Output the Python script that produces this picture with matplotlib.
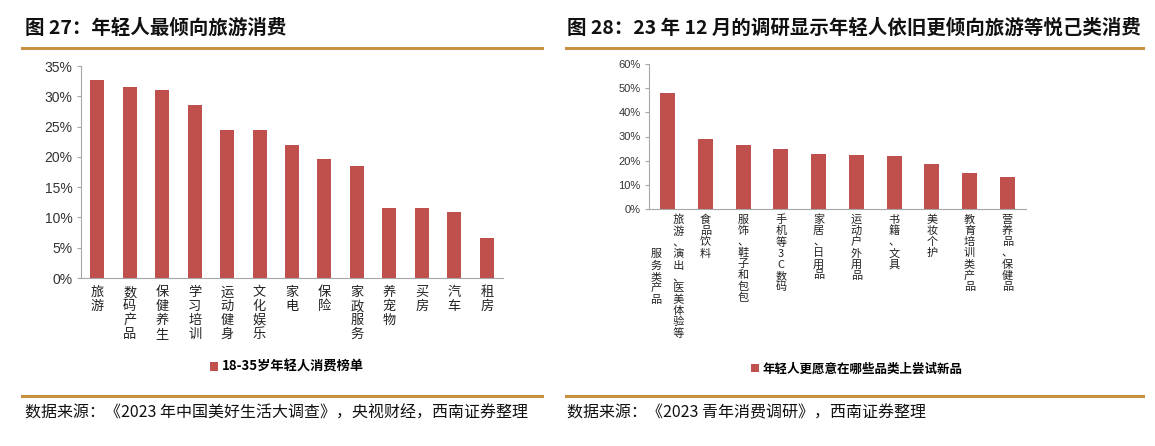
import numpy as np
import matplotlib as mpl
mpl.use('Agg')
import matplotlib.pyplot as plt
from matplotlib.ticker import PercentFormatter
from matplotlib.lines import Line2D

plt.rcParams['font.family'] = ['Noto Sans CJK SC', 'DejaVu Sans']

# ---- data ----
left_title = '图 27：年轻人最倾向旅游消费'
left_cats = ['旅游', '数码产品', '保健养生', '学习培训', '运动健身', '文化娱乐', '家电',
             '保险', '家政服务', '养宠物', '买房', '汽车', '租房']
left_vals = [32.7, 31.6, 31.0, 28.6, 24.5, 24.4, 22.0, 19.6, 18.5, 11.5, 11.5, 10.9, 6.6]
left_series = '18-35岁年轻人消费榜单'
left_source = '数据来源：《2023 年中国美好生活大调查》，央视财经，西南证券整理'

right_title = '图 28：23 年 12 月的调研显示年轻人依旧更倾向旅游等悦己类消费'
right_cats = ['旅游、演出、医美体验等服务类产品', '食品饮料', '服饰、鞋子和包包', '手机等3C数码',
              '家居、日用品', '运动户外用品', '书籍、文具', '美妆个护', '教育培训类产品',
              '营养品、保健品']
right_vals = [48.0, 28.8, 26.5, 24.7, 22.9, 22.3, 21.8, 18.5, 14.8, 13.2]
right_series = '年轻人更愿意在哪些品类上尝试新品'
right_source = '数据来源：《2023 青年消费调研》，西南证券整理'

BAR = '#C0504D'
GOLD = '#C8913F'
AXC = '#A6A6A6'


def vstack(s, maxlen=11):
    # vertical text, columns right-to-left, short columns centred
    cols = [s[i:i + maxlen] for i in range(0, len(s), maxlen)]
    if len(cols) == 1:
        return '\n'.join(s)
    n = len(cols[0])
    rows = []
    for r in range(n):
        line = []
        for c in reversed(cols):
            off = (n - len(c)) // 2
            k = r - off
            line.append(c[k] if 0 <= k < len(c) else '\u3000')
        rows.append('\u3000'.join(line))
    return '\n'.join(rows)


def setup(ax, ymax, step, fs):
    for sp in ['top', 'right']:
        ax.spines[sp].set_visible(False)
    for sp in ['left', 'bottom']:
        ax.spines[sp].set_color(AXC)
        ax.spines[sp].set_linewidth(0.8)
    ax.set_ylim(0, ymax)
    ax.set_yticks(np.arange(0, ymax + 0.1, step))
    ax.yaxis.set_major_formatter(PercentFormatter(xmax=100, decimals=0))
    ax.tick_params(axis='y', length=3, color=AXC, labelsize=fs, pad=3)
    ax.tick_params(axis='y', labelcolor='#333333')
    for t in ax.get_yticklabels():
        t.set_fontfamily('Liberation Sans')
    ax.tick_params(axis='x', length=0)


fig = plt.figure(figsize=(11.55, 4.46), dpi=100)

# left chart
ax1 = fig.add_axes([81 / 1155, 168 / 446, 422 / 1155, 212 / 446])
x1 = np.arange(len(left_cats))
ax1.bar(x1, left_vals, width=0.43, color=BAR, label=left_series)
ax1.set_xlim(-0.5, len(left_cats) - 0.5)
setup(ax1, 35, 5, 10)
ax1.set_xticks(x1)
ax1.set_xticklabels([vstack(c) for c in left_cats], fontsize=9.5, va='top',
                    linespacing=1.08, color='#222222')
ax1.tick_params(axis='x', pad=6)

# right chart
ax2 = fig.add_axes([649 / 1155, 237 / 446, 377 / 1155, 145 / 446])
x2 = np.arange(len(right_cats))
ax2.bar(x2, right_vals, width=0.4, color=BAR, label=right_series)
ax2.set_xlim(-0.5, len(right_cats) - 0.5)
setup(ax2, 60, 10, 8)
ax2.set_xticks(x2)
ax2.set_xticklabels([vstack(c) for c in right_cats], fontsize=8, va='top',
                    linespacing=1.13, color='#222222')
ax2.tick_params(axis='x', pad=4)

# legends
ax1.legend(loc='center', bbox_to_anchor=(287 / 1155, 1 - 367 / 446),
           bbox_transform=fig.transFigure, frameon=False, handlelength=0.6,
           handleheight=0.6, handletextpad=0.3,
           prop={'family': ['Noto Sans CJK SC'], 'weight': 'bold', 'size': 9.5})
ax2.legend(loc='center', bbox_to_anchor=(857 / 1155, 1 - 369 / 446),
           bbox_transform=fig.transFigure, frameon=False, handlelength=0.6,
           handleheight=0.6, handletextpad=0.3,
           prop={'family': ['Noto Sans CJK SC'], 'weight': 'bold', 'size': 9})

# titles and rules
fig.text(25 / 1155, 1 - 28 / 446, left_title, fontsize=14, fontweight='bold',
         va='center', ha='left', color='#111111')
fig.text(567 / 1155, 1 - 28 / 446, right_title, fontsize=14, fontweight='bold',
         va='center', ha='left', color='#111111')
for x0, x1r in [(22, 542), (566, 1143)]:
    for yy in [47.5, 396]:
        fig.add_artist(Line2D([x0 / 1155, x1r / 1155], [1 - yy / 446, 1 - yy / 446],
                              color=GOLD, linewidth=2.2, transform=fig.transFigure))

fig.text(25 / 1155, 1 - 413 / 446, left_source, fontsize=11.5, va='center', ha='left',
         color='#111111', style='italic')
fig.text(567 / 1155, 1 - 413 / 446, right_source, fontsize=11.5, va='center', ha='left',
         color='#111111', style='italic')

fig.savefig('out.png', dpi=100)
plt.close()
